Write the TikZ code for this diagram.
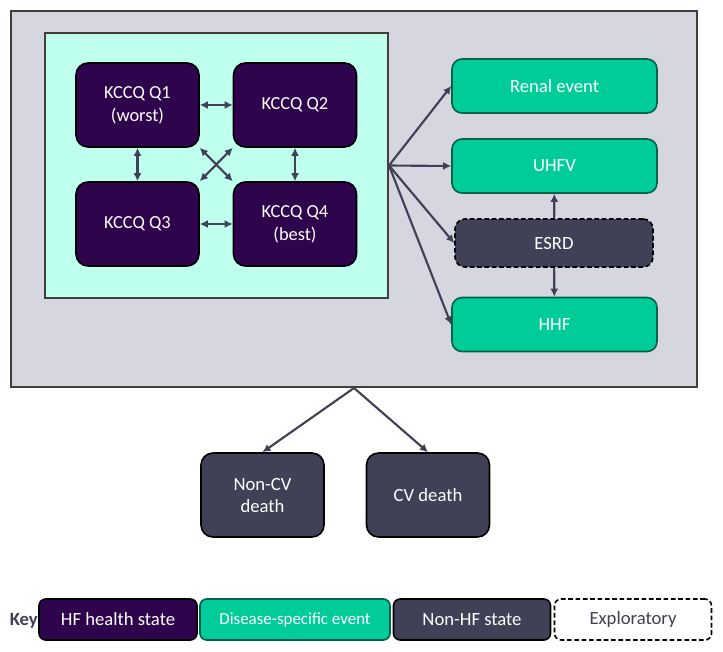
\documentclass[tikz,border=0pt]{standalone}
\usepackage{fontspec}
\setmainfont{Carlito}
\usetikzlibrary{arrows.meta}
\definecolor{hfpurple}{RGB}{46,4,76}
\definecolor{evgreen}{RGB}{0,204,153}
\definecolor{evborder}{RGB}{0,96,72}
\definecolor{nonhf}{RGB}{64,64,86}
\definecolor{bggray}{RGB}{214,214,224}
\definecolor{mint}{RGB}{191,255,238}
\definecolor{framec}{RGB}{64,64,56}
\definecolor{arrowc}{RGB}{64,64,86}

\begin{document}
\begin{tikzpicture}[x=0.75pt,y=-0.75pt]
    \tikzset{every node/.style={inner sep=0pt, align=center}}
    \tikzset{box/.style={rounded corners=9pt, text=white, line width=1.2pt, font=\fontsize{13.8}{17}\selectfont}}
    \tikzset{hfstate/.style={box, fill=hfpurple, draw=black, minimum width=92.25pt, minimum height=63pt}}
    \tikzset{event/.style={box, rounded corners=7.5pt, fill=evgreen, draw=evborder, minimum width=153.75pt, minimum height=40.5pt, font=\fontsize{14}{17}\selectfont}}
    \tikzset{nonhfstate/.style={box, fill=nonhf, draw=black, minimum width=92.25pt, minimum height=63pt, font=\fontsize{14}{16.5}\selectfont}}
    \tikzset{explor/.style={draw=black, dash pattern=on 3.5pt off 2pt}}
    \tikzset{keybox/.style={rounded corners=5pt, line width=1.2pt, minimum height=30.75pt, font=\fontsize{14}{16}\selectfont}}
    \tikzset{link/.style={draw=arrowc, line width=1.6pt, -{Latex[length=6pt,width=6pt]}}}
    \tikzset{twoway/.style={link, {Latex[length=6pt,width=6pt]}-{Latex[length=6pt,width=6pt]}}}
    \useasboundingbox (0,0) rectangle (723,651);
    \node[fill=bggray, draw=framec, line width=1.5pt, minimum width=514.5pt, minimum height=282pt] (model) at (354,199) {};
    \node[fill=mint, draw=framec, line width=1.5pt, minimum width=257.25pt, minimum height=198.75pt] (kccq) at (216.5,165.5) {};
    \node[hfstate] (Q1) at (137.5,105) {KCCQ Q1\\(worst)};
    \node[hfstate] (Q2) at (295,105) {KCCQ Q2};
    \node[hfstate] (Q3) at (137.5,224) {KCCQ Q3};
    \node[hfstate] (Q4) at (295,224) {KCCQ Q4\\(best)};
    \node[event] (renal) at (554.5,86) {Renal event};
    \node[event] (uhfv) at (554.5,166) {UHFV};
    \node[box, fill=nonhf, explor, minimum width=148.5pt, minimum height=36pt, rounded corners=7.5pt, font=\fontsize{14}{17}\selectfont] (esrd) at (554,243) {ESRD};
    \node[event] (hhf) at (554.5,324.5) {HHF};
    \node[nonhfstate] (noncv) at (262.5,495) {Non-CV\\death};
    \node[nonhfstate] (cv) at (428,495) {CV death};
    \node[anchor=east, text=nonhf, font=\fontsize{14}{16}\selectfont\bfseries] (key) at (38,621) {Key};
    \node[keybox, fill=hfpurple, draw=black, text=white, minimum width=118.5pt] (keyhf) at (118,619.5) {HF health state};
    \node[keybox, fill=evgreen, draw=evborder, text=white, minimum width=142.5pt, font=\fontsize{12.7}{15}\selectfont] (keyev) at (295,619.5) {Disease-specific event};
    \node[keybox, fill=nonhf, draw=black, text=white, minimum width=117.75pt] (keynonhf) at (472,619.5) {Non-HF state};
    \node[keybox, fill=white, explor, text=nonhf, minimum width=117.75pt] (keyexp) at (633,619.5) {Exploratory};
    \draw[twoway] (Q1) -- (Q2);
    \draw[twoway] (Q3) -- (Q4);
    \draw[twoway] (Q1) -- (Q3);
    \draw[twoway] (Q2) -- (Q4);
    \draw[twoway] (Q1.south east) -- (Q4.north west);
    \draw[twoway] (Q2.south west) -- (Q3.north east);
    \draw[link] (kccq.east) -- (renal.west);
    \draw[link] (kccq.east) -- (uhfv.west);
    \draw[link] (kccq.east) -- (esrd.west);
    \draw[link] (kccq.east) -- (hhf.west);
    \draw[link] (esrd) -- (uhfv);
    \draw[link] (esrd) -- (hhf);
    \draw[link] (model.south) -- (noncv.north);
    \draw[link] (model.south) -- (cv.north);
\end{tikzpicture}
\end{document}
